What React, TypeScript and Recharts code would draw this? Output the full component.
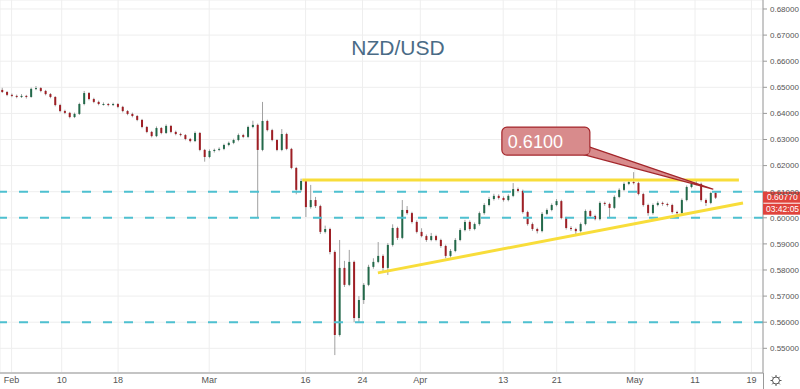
import React from 'react';
import { ComposedChart, Bar, XAxis, YAxis, CartesianGrid, ReferenceLine, ReferenceDot } from 'recharts';

// 12h candles (one slot per candle) of NZD/USD
const opens = [
  0.6490,0.6482,0.6471,0.6467,0.6463,0.6467,0.6463,0.6494,0.6497,0.6486,
  0.6474,0.6463,0.6432,0.6409,0.6402,0.6386,0.6398,0.6436,0.6478,0.6455,
  0.6444,0.6436,0.6436,0.6432,0.6436,0.6425,0.6409,0.6398,0.6390,0.6375,
  0.6348,0.6329,0.6313,0.6344,0.6325,0.6352,0.6329,0.6321,0.6317,0.6302,
  0.6294,0.6325,0.6260,0.6233,0.6256,0.6260,0.6264,0.6279,0.6287,0.6298,
  0.6317,0.6310,0.6348,0.6356,0.6260,0.6371,0.6336,0.6298,0.6260,0.6321,
  0.6264,0.6191,0.6107,0.6141,0.6041,0.6068,0.6045,0.5946,0.5957,0.5869,
  0.5551,0.5808,0.5743,0.5831,0.5616,0.5685,0.5743,0.5812,0.5831,0.5854,
  0.5808,0.5896,0.5961,0.5923,0.6030,0.6018,0.5984,0.5946,0.5930,0.5915,
  0.5930,0.5915,0.5892,0.5854,0.5873,0.5915,0.5953,0.5984,0.5957,0.5976,
  0.6018,0.6049,0.6072,0.6084,0.6076,0.6068,0.6084,0.6110,0.6103,0.6022,
  0.5976,0.5957,0.5949,0.6015,0.6030,0.6049,0.6064,0.5999,0.5961,0.5957,
  0.5949,0.5976,0.6026,0.6007,0.5995,0.6057,0.6053,0.6038,0.6080,0.6107,
  0.6130,0.6137,0.6133,0.6091,0.6049,0.6018,0.6049,0.6057,0.6053,0.6049,
  0.6022,0.6018,0.6068,0.6118,0.6130,0.6130,0.6068,0.6057,0.6095,
];
const highs = [
  0.6498,0.6486,0.6476,0.6472,0.6474,0.6471,0.6499,0.6505,0.6501,0.6490,
  0.6478,0.6466,0.6437,0.6414,0.6406,0.6403,0.6441,0.6486,0.6482,0.6460,
  0.6449,0.6442,0.6440,0.6441,0.6440,0.6429,0.6413,0.6403,0.6394,0.6379,
  0.6352,0.6333,0.6350,0.6348,0.6358,0.6356,0.6334,0.6326,0.6321,0.6306,
  0.6331,0.6329,0.6264,0.6262,0.6265,0.6270,0.6284,0.6292,0.6303,0.6323,
  0.6322,0.6353,0.6372,0.6361,0.6444,0.6376,0.6341,0.6302,0.6340,0.6326,
  0.6268,0.6195,0.6150,0.6146,0.6126,0.6080,0.6050,0.5970,0.5962,0.5875,
  0.5915,0.5835,0.5877,0.5836,0.5700,0.5750,0.5820,0.5845,0.5907,0.5860,
  0.5903,0.5975,0.5966,0.6068,0.6045,0.6023,0.5990,0.5960,0.5936,0.5942,
  0.5935,0.5920,0.5897,0.5880,0.5922,0.5960,0.5992,0.5990,0.5982,0.6024,
  0.6056,0.6080,0.6092,0.6090,0.6082,0.6090,0.6133,0.6116,0.6108,0.6027,
  0.5982,0.5962,0.6022,0.6036,0.6055,0.6072,0.6069,0.6004,0.5968,0.5962,
  0.5982,0.6032,0.6031,0.6012,0.6063,0.6062,0.6058,0.6086,0.6113,0.6136,
  0.6143,0.6175,0.6138,0.6096,0.6054,0.6055,0.6063,0.6062,0.6058,0.6054,
  0.6027,0.6074,0.6124,0.6136,0.6145,0.6135,0.6074,0.6100,0.6099,
];
const lows = [
  0.6478,0.6466,0.6462,0.6458,0.6459,0.6457,0.6460,0.6489,0.6481,0.6469,
  0.6458,0.6427,0.6404,0.6397,0.6381,0.6382,0.6394,0.6431,0.6450,0.6439,
  0.6431,0.6430,0.6427,0.6428,0.6420,0.6404,0.6393,0.6385,0.6370,0.6343,
  0.6324,0.6308,0.6309,0.6320,0.6321,0.6324,0.6316,0.6312,0.6297,0.6289,
  0.6290,0.6255,0.6215,0.6228,0.6250,0.6255,0.6259,0.6274,0.6282,0.6293,
  0.6305,0.6305,0.6343,0.6003,0.6255,0.6331,0.6293,0.6255,0.6255,0.6259,
  0.6186,0.6090,0.6100,0.6003,0.6035,0.6038,0.5938,0.5940,0.5860,0.5474,
  0.5545,0.5735,0.5738,0.5600,0.5600,0.5670,0.5738,0.5805,0.5826,0.5795,
  0.5781,0.5890,0.5915,0.5918,0.6012,0.5978,0.5940,0.5925,0.5908,0.5910,
  0.5910,0.5885,0.5845,0.5848,0.5868,0.5910,0.5948,0.5950,0.5952,0.5970,
  0.6012,0.6044,0.6066,0.6070,0.6062,0.6063,0.6079,0.6097,0.6016,0.5970,
  0.5950,0.5940,0.5944,0.6010,0.6025,0.6044,0.5994,0.5955,0.5950,0.5930,
  0.5944,0.5971,0.6001,0.5990,0.5990,0.6046,0.5999,0.6033,0.6075,0.6102,
  0.6125,0.6128,0.6086,0.6043,0.6008,0.6012,0.6044,0.6046,0.6043,0.6016,
  0.6010,0.6013,0.6063,0.6113,0.6124,0.6062,0.6045,0.6052,0.6072,
];
const closes = [
  0.6482,0.6471,0.6467,0.6463,0.6467,0.6463,0.6494,0.6497,0.6486,0.6474,
  0.6463,0.6432,0.6409,0.6402,0.6386,0.6398,0.6436,0.6478,0.6455,0.6444,
  0.6436,0.6436,0.6432,0.6436,0.6425,0.6409,0.6398,0.6390,0.6375,0.6348,
  0.6329,0.6313,0.6344,0.6325,0.6352,0.6329,0.6321,0.6317,0.6302,0.6294,
  0.6325,0.6260,0.6233,0.6256,0.6260,0.6264,0.6279,0.6287,0.6298,0.6317,
  0.6310,0.6348,0.6356,0.6260,0.6371,0.6336,0.6298,0.6260,0.6321,0.6264,
  0.6191,0.6107,0.6141,0.6041,0.6068,0.6045,0.5946,0.5957,0.5869,0.5551,
  0.5808,0.5743,0.5831,0.5616,0.5685,0.5743,0.5812,0.5831,0.5854,0.5808,
  0.5896,0.5961,0.5923,0.6030,0.6018,0.5984,0.5946,0.5930,0.5915,0.5930,
  0.5915,0.5892,0.5854,0.5873,0.5915,0.5953,0.5984,0.5957,0.5976,0.6018,
  0.6049,0.6072,0.6084,0.6076,0.6068,0.6084,0.6110,0.6103,0.6022,0.5976,
  0.5957,0.5949,0.6015,0.6030,0.6049,0.6064,0.5999,0.5961,0.5957,0.5949,
  0.5976,0.6026,0.6007,0.5995,0.6057,0.6053,0.6038,0.6080,0.6107,0.6130,
  0.6137,0.6133,0.6091,0.6049,0.6018,0.6049,0.6057,0.6053,0.6049,0.6022,
  0.6018,0.6068,0.6118,0.6130,0.6130,0.6068,0.6057,0.6095,0.6077,
];

// time axis (in candle slots) and its labels
const timeTicks = [2.4, 12.8, 24.5, 43.4, 63.4, 75.2, 87.2, 104.4, 115.5, 131.7, 144.2, 155.9];
const timeLabels = ['Feb', '10', '18', 'Mar', '16', '24', 'Apr', '13', '21', 'May', '11', '19'];
const timeDomain = [0, 158.3];

const priceTicks = [0.55, 0.56, 0.57, 0.58, 0.59, 0.6, 0.61, 0.62, 0.63, 0.64, 0.65, 0.66, 0.67, 0.68];
const priceDomain = [0.540536, 0.683448];

// drawings
const dashedLevels = [0.61, 0.6, 0.56];
const resistance = { from: 62.7, to: 153.3, price: 0.6145 };
const trendStart = { u: 78.4, price: 0.5789 };
const trendEnd = { u: 154.15, price: 0.6057 };
const callout = { u: 147.9, price: 0.611, text: '0.6100' };
const lastPrice = { price: 0.6077, text: '0.60770', countdown: '03:42:05' };
const title = 'NZD/USD';

const data = closes.map((c, i) => ({
  u: i + 0.55,
  open: opens[i],
  high: highs[i],
  low: lows[i],
  close: c,
  range: [lows[i], highs[i]],
}));

const UP = '#23694A';
const DOWN = '#9E1F25';
const WICK = '#a0a0a0';

const Candle = (props: any) => {
  const { x, y, width, height, payload } = props;
  if (!payload || x == null || y == null) return null;
  const { open, close, high, low } = payload;
  const top = Math.min(y, y + height);
  const h = Math.abs(height);
  const k = high - low > 0 ? h / (high - low) : 0;
  const yO = top + (high - open) * k;
  const yC = top + (high - close) * k;
  const up = close >= open;
  const cx = x + width / 2;
  const bTop = Math.min(yO, yC);
  const bH = Math.max(1, Math.abs(yC - yO));
  return (
    <g>
      <line x1={cx} x2={cx} y1={top} y2={top + h} stroke={WICK} strokeWidth={1} />
      <rect x={x} y={bTop} width={width} height={bH} fill={up ? UP : DOWN} />
    </g>
  );
};

const Callout = (props: any) => {
  const { cx, cy } = props;
  if (cx == null || cy == null) return null;
  const fill = '#D88B8C';
  const stroke = '#A3262B';
  return (
    <g>
      <polygon
        points={`${cx - 131},${cy - 35} ${cx - 123},${cy - 42} ${cx},${cy}`}
        fill={fill}
        stroke={stroke}
        strokeWidth={1.2}
        strokeLinejoin="round"
      />
      <rect x={cx - 211} y={cy - 62} width={88} height={28} rx={5} ry={5} fill={fill} stroke={stroke} strokeWidth={1.2} />
      <polygon points={`${cx - 131},${cy - 35.6} ${cx - 123.6},${cy - 42}  ${cx - 123.6},${cy - 35.6}`} fill={fill} />
      <text x={cx - 205} y={cy - 41} fill="#ffffff" fontSize={18} fontFamily="Liberation Sans, Arial, sans-serif">
        {callout.text}
      </text>
    </g>
  );
};

const PriceTag = (props: any) => {
  const { cx, cy } = props;
  if (cx == null || cy == null) return null;
  return (
    <g>
      <rect x={cx} y={cy - 6} width={37} height={11} fill="#E0443D" />
      <text x={cx + 4} y={cy + 2.5} fill="#fff" fontSize={8.5} fontFamily="Liberation Sans, Arial, sans-serif">
        {lastPrice.text}
      </text>
      <rect x={cx} y={cy + 6} width={37} height={11} fill="#E0443D" />
      <text x={cx + 3} y={cy + 14.5} fill="#fff" fontSize={8.5} fontFamily="Liberation Sans, Arial, sans-serif">
        {lastPrice.countdown}
      </text>
    </g>
  );
};

export default function App() {
  return (
    <div style={{ position: 'absolute', left: 0, top: 0, width: 800, height: 389, background: '#fff', fontFamily: 'Liberation Sans, Arial, sans-serif' }}>
      <ComposedChart width={800} height={389} data={data} margin={{ top: 0, right: 0, bottom: 0, left: 0 }}>
        <CartesianGrid stroke="#eeeeee" strokeWidth={1} />
        <XAxis
          type="number"
          dataKey="u"
          domain={timeDomain}
          ticks={timeTicks}
          interval={0}
          allowDataOverflow
          height={16}
          tickSize={0}
          tickMargin={4}
          tickFormatter={(_v: number, i: number) => timeLabels[i]}
          axisLine={{ stroke: '#c4c4c4', strokeWidth: 2 }}
          tick={{ fontSize: 9, fill: '#555' }}
        />
        <YAxis
          type="number"
          orientation="right"
          domain={priceDomain}
          ticks={priceTicks}
          allowDataOverflow
          width={37}
          tickSize={4}
          tickMargin={3}
          interval={0}
          tickFormatter={(v: number) => v.toFixed(5)}
          axisLine={{ stroke: '#9a9a9a' }}
          tickLine={{ stroke: '#9a9a9a' }}
          tick={{ fontSize: 8, fill: '#555', textAnchor: 'start' }}
        />
        {dashedLevels.map((p) => (
          <ReferenceLine key={p} y={p} stroke="#4EC0D0" strokeWidth={2} strokeDasharray="9 12" />
        ))}
        <Bar dataKey="range" barSize={2} isAnimationActive={false} shape={(p: any) => <Candle {...p} />} />
        <ReferenceLine
          segment={[{ x: resistance.from, y: resistance.price }, { x: resistance.to, y: resistance.price }]}
          stroke="#F8DD3A"
          strokeWidth={3}
        />
        <ReferenceLine
          segment={[{ x: trendStart.u, y: trendStart.price }, { x: trendEnd.u, y: trendEnd.price }]}
          stroke="#F8DD3A"
          strokeWidth={3}
        />
        <ReferenceDot x={callout.u} y={callout.price} r={0} ifOverflow="visible" shape={(p: any) => <Callout {...p} />} />
        <ReferenceDot x={timeDomain[1]} y={lastPrice.price} r={0} ifOverflow="visible" shape={(p: any) => <PriceTag {...p} />} />
      </ComposedChart>
      <div
        style={{
          position: 'absolute',
          left: 0,
          top: 35,
          width: 796,
          textAlign: 'center',
          fontSize: 21,
          lineHeight: '26px',
          color: '#4A6B86',
        }}
      >
        {title}
      </div>
      <svg style={{ position: 'absolute', left: 763, top: 373 }} width={37} height={16}>
        <line x1={0.5} x2={0.5} y1={0} y2={16} stroke="#9a9a9a" />
        <circle cx={13} cy={7.5} r={3.5} fill="none" stroke="#555" strokeWidth={1} />
        {[0, 45, 90, 135, 180, 225, 270, 315].map((a) => {
          const r = (a * Math.PI) / 180;
          return (
            <line
              key={a}
              x1={13 + Math.cos(r) * 3.5}
              y1={7.5 + Math.sin(r) * 3.5}
              x2={13 + Math.cos(r) * 5.5}
              y2={7.5 + Math.sin(r) * 5.5}
              stroke="#555"
              strokeWidth={1}
            />
          );
        })}
      </svg>
    </div>
  );
}
